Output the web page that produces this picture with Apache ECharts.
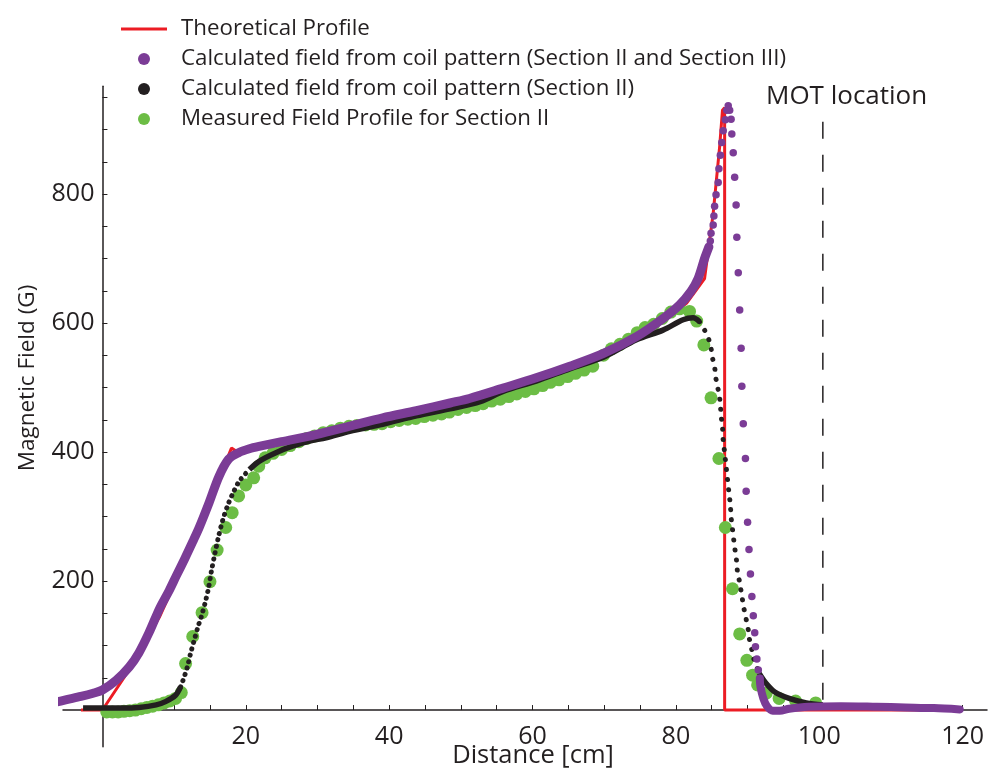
<!DOCTYPE html>
<html><head><meta charset="utf-8">
<script src="https://cdn.jsdelivr.net/npm/echarts@6/dist/echarts.min.js"></script>
<style>html,body{margin:0;padding:0;background:#fff}#c{width:992px;height:775px}</style>
</head><body><div id="c"></div>
<script>
// ---------- data ----------
const nameTheo = 'Theoretical Profile';
const namePurple = 'Calculated field from coil pattern (Section II and Section III)';
const nameBlack = 'Calculated field from coil pattern (Section II)';
const nameGreen = 'Measured Field Profile for Section II';

const xTickValues = [5,10,15,20,25,30,35,40,45,50,55,60,65,70,75,80,85,90,95,100,105,110,115,120];
const xLabelValues = [20,40,60,80,100,120];
const yTickValues = [50,100,150,200,250,300,350,400,450,500,550,600,650,700,750,800,850,900,950];
const yLabelValues = [200,400,600,800];

const theoX = [-3,0,3,8,13,18,18.6,20.5,25,29.8,34.5,39.1,43.8,48.5,55.9,60.5,65.2,69.9,74.5,78.2,81.5,84.0,85.2,86.1,86.5,86.8,86.8,119.6];
const theoY = [0,0,50,145,268,406,402,404,416,427,440,453,464,476,499,515,533,553,579,602,631,669,770,873,930,934,0,0];

const purpleLineX = [-6.9,-5,-3,-1.3,0,1.9,3.75,5.1,6.5,8,9.3,10.3,11.5,12.6,13.5,14.9,16.25,17.6,19,20.5,22,25,29.8,34.5,39.1,43.8,48.5,51.2,55.9,60.5,65.2,69.9,74.5,78.2,80.5,82.1,83.1,84.0,84.6];
const purpleLineY = [11,16,21,26,31,46,67,89,120,158,185,208,235,261,283,322,362,389,399,405,409,416,427,440,453,464,476,483,499,515,533,553,579,607,628,649,669,700,718];
const purpleDotX = [84.8,84.9,85.2,85.3,85.4,85.6,85.9,86.0,86.2,86.4,86.6,86.9,87.1,87.3,87.5,87.7,87.8,88.0,88.2,88.4,88.5,88.7,88.9,89.1,89.2,89.4,89.7,89.8,90.0,90.2,90.4,90.6,90.8,91.0,91.1,91.3,91.5,91.7];
const purpleDotY = [727,739,752,766,781,799,818,839,860,880,898,915,930,937,930,916,893,864,826,783,733,678,620,561,502,444,390,339,291,249,211,176,146,120,98,79,62,49];
const purpleTailX = [91.7,91.8,92.2,92.7,93.5,94.5,95.8,98.5,103,108,112,116,119.6];
const purpleTailY = [49,36,18,6,-1,-1,2,5,6,5,4,3,1];

const blackLowX = [-2.7,0,2.8,5.1,7.5,8.8,10.2,10.9];
const blackLowY = [3,3,3,4,8,13,23,36];
const blackRiseX = [10.9,11.4,11.9,12.3,12.8,13.3,13.8,14.3,14.8,15.2,15.7,16.2,16.8,17.5,18.2,19.1,20.5];
const blackRiseY = [36,51,69,88,108,128,145,165,189,215,243,269,295,318,336,355,373];
const blackPlateauX = [20.5,21.9,24.2,26.5,28.9,31.2,34.5,39.1,43.8,48.5,52.7,55.9,60.5,65.2,69.9,74.5,78.2,81,82.4,83.3];
const blackPlateauY = [373,386,399,409,417,422,432,443,456,467,478,494,510,529,547,574,589,605,608,602];
const blackFallX = [83.3,84.0,84.6,84.9,85.1,85.4,85.5,85.7,86.0,86.2,86.3,86.5,86.6,86.8,87.0,87.2,87.4,87.6,87.7,87.9,88.1,88.3,88.5,88.6,88.9,89.1,89.3,89.5,89.7,89.9,90.1,90.2,90.4,90.6,90.8,91.1,91.6];
const blackFallY = [602,589,574,561,546,533,520,507,491,475,457,439,418,399,378,358,337,318,299,280,261,244,228,213,198,184,170,157,147,135,124,113,103,93,82,72,57];
const blackTailX = [91.6,92.6,93.8,95.8,98.2,100.5];
const blackTailY = [57,41,28,18,11,8];

const greenX = [0.6,1.4,2.2,3.0,3.8,4.6,5.4,6.2,7.0,7.8,8.6,9.4,10.2,11.0,11.6,12.6,13.9,15.0,16.0,17.2,18.1,19.0,20.0,21.1,21.8,22.7,23.8,25,26.2,27.4,28.5,29.6,30.8,32,33.2,34.4,35.5,36.7,37.9,39,40.2,41.4,42.6,43.7,44.9,46.1,47.3,48.4,49.6,50.8,52,53.1,54.3,55.5,56.7,57.8,59,60.2,61.4,62.5,63.7,64.9,66,67.2,68.4,69.9,71,72.2,73.4,74.6,75.7,76.9,78.1,79.3,80.5,81.9,82.9,83.9,84.9,86.0,86.9,87.9,88.9,89.9,90.7,91.4,92.6,94.4,96.7,99.5];
const greenY = [-3,-3,-3,-2,-1,0,2,4,6,8,11,14,18,27,72,114,151,199,248,283,306,332,349,360,378,391,398,404,410,416,421,425,430,433,437,440,441,442,443,444,447,449,451,452,455,457,459,462,466,469,472,475,479,482,486,490,494,498,503,508,512,517,522,527,533,550,560,567,575,585,593,598,607,617,622,618,603,566,484,390,283,188,118,77,54,39,26,18,14,11];

const motX = [100.5,100.5];
const motY = [912,12];
const motLabel = 'MOT location';
const xTitle = 'Distance [cm]';
const yTitle = 'Magnetic Field (G)';

// ---------- build ----------
const zip = (xs, ys) => xs.map((x, i) => [x, ys[i]]);
const FONT = 'Open Sans';
const INK = '#231f20';
const RED = '#ec1c24', PURPLE = '#7b3c96', BLACK = '#231f20', GREEN = '#6cbd45';

const X_MIN = -5.5, X_MAX = 123.4, Y_MIN = -57, Y_MAX = 967;
const G_LEFT = 63, G_RIGHT = 5, G_TOP = 86.3, G_BOTTOM = 28.2;
const gW = 992 - G_LEFT - G_RIGHT, gH = 775 - G_TOP - G_BOTTOM;
// offsets so that the axes sit on x = 0 and y = 0 (axes cross at the origin)
const yAxisOffset = -((0 - X_MIN) / (X_MAX - X_MIN)) * gW;
const xAxisOffset = -((0 - Y_MIN) / (Y_MAX - Y_MIN)) * gH;

const chart = echarts.init(document.getElementById('c'), null, {renderer: 'canvas'});
chart.setOption({
  animation: false,
  backgroundColor: '#fff',
  grid: {left: G_LEFT, right: G_RIGHT, top: G_TOP, bottom: G_BOTTOM, containLabel: false, outerBoundsMode: 'none'},
  xAxis: {
    type: 'value', min: X_MIN, max: X_MAX, position: 'bottom', offset: xAxisOffset,
    axisLine: {onZero: false, lineStyle: {color: INK, width: 1.5}},
    axisTick: {inside: true, length: 5, customValues: xTickValues, lineStyle: {color: INK, width: 1}},
    axisLabel: {customValues: xLabelValues, fontFamily: FONT, fontSize: 25, color: INK, margin: 14},
    splitLine: {show: false}
  },
  yAxis: {
    type: 'value', min: Y_MIN, max: Y_MAX, position: 'left', offset: yAxisOffset,
    axisLine: {onZero: false, lineStyle: {color: INK, width: 1.5}},
    axisTick: {inside: true, length: 5, customValues: yTickValues, lineStyle: {color: INK, width: 1}},
    axisLabel: {customValues: yLabelValues, fontFamily: FONT, fontSize: 25, color: INK, margin: 8},
    splitLine: {show: false}
  },
  legend: {
    orient: 'vertical', left: 121, top: 18, padding: 0, itemWidth: 46, itemHeight: 12, itemGap: 8,
    textStyle: {fontFamily: FONT, fontSize: 22.3, color: INK, lineHeight: 22, padding: [0, 0, 0, 9]},
    data: [
      {name: nameTheo, icon: 'path://M0,0H46V3H0Z'},
      {name: namePurple, icon: 'circle'},
      {name: nameBlack, icon: 'circle'},
      {name: nameGreen, icon: 'circle'}
    ]
  },
  graphic: [
    {type: 'text', left: 766, top: 84, style: {text: motLabel, fontFamily: FONT, fontSize: 26, fill: INK}},
    {type: 'text', x: 533, y: 756, style: {text: xTitle, fontFamily: FONT, fontSize: 25.5, fill: INK, align: 'center', verticalAlign: 'middle'}},
    {type: 'text', x: 28, y: 378, rotation: Math.PI / 2, style: {text: yTitle, fontFamily: FONT, fontSize: 22.5, fill: INK, align: 'center', verticalAlign: 'middle'}}
  ],
  series: [
    {name: 'mot', type: 'line', data: zip(motX, motY), symbol: 'none', z: 1, silent: true,
     lineStyle: {color: INK, width: 1.5, type: [17, 16]}},
    {name: nameTheo, type: 'line', data: zip(theoX, theoY), symbol: 'none', z: 2, color: RED,
     lineStyle: {color: RED, width: 3}},
    {name: nameGreen, type: 'scatter', data: zip(greenX, greenY), symbol: 'circle', symbolSize: 13, z: 3,
     itemStyle: {color: GREEN, opacity: 1}},
    {name: nameBlack, type: 'line', data: zip(blackLowX, blackLowY), symbol: 'none', z: 4, color: BLACK, smooth: 0.3,
     lineStyle: {color: BLACK, width: 5.5}},
    {name: nameBlack, type: 'line', data: zip(blackRiseX, blackRiseY), symbol: 'none', z: 4, color: BLACK, smooth: 0.3,
     lineStyle: {color: BLACK, width: 5, type: [0.1, 6.5], cap: 'round'}},
    {name: nameBlack, type: 'line', data: zip(blackPlateauX, blackPlateauY), symbol: 'none', z: 4, color: BLACK, smooth: 0.3,
     lineStyle: {color: BLACK, width: 5.5}},
    {name: nameBlack, type: 'line', data: zip(blackFallX, blackFallY), symbol: 'none', z: 4, color: BLACK, smooth: 0.3,
     lineStyle: {color: BLACK, width: 5, type: [0.1, 10], cap: 'round'}},
    {name: nameBlack, type: 'line', data: zip(blackTailX, blackTailY), symbol: 'none', z: 4, color: BLACK, smooth: 0.3,
     lineStyle: {color: BLACK, width: 5.5}},
    {name: namePurple, type: 'line', data: zip(purpleLineX, purpleLineY), symbol: 'none', z: 5, color: PURPLE, smooth: 0.3, clip: false,
     lineStyle: {color: PURPLE, width: 9, cap: 'round', join: 'round'}},
    {name: namePurple, type: 'scatter', data: zip(purpleDotX, purpleDotY), symbol: 'circle', symbolSize: 7.5, z: 5, color: PURPLE,
     itemStyle: {color: PURPLE, opacity: 1}},
    {name: namePurple, type: 'line', data: zip(purpleTailX, purpleTailY), symbol: 'none', z: 5, color: PURPLE, smooth: 0.3,
     lineStyle: {color: PURPLE, width: 8, cap: 'round', join: 'round'}}
  ]
});
</script>
</body></html>
